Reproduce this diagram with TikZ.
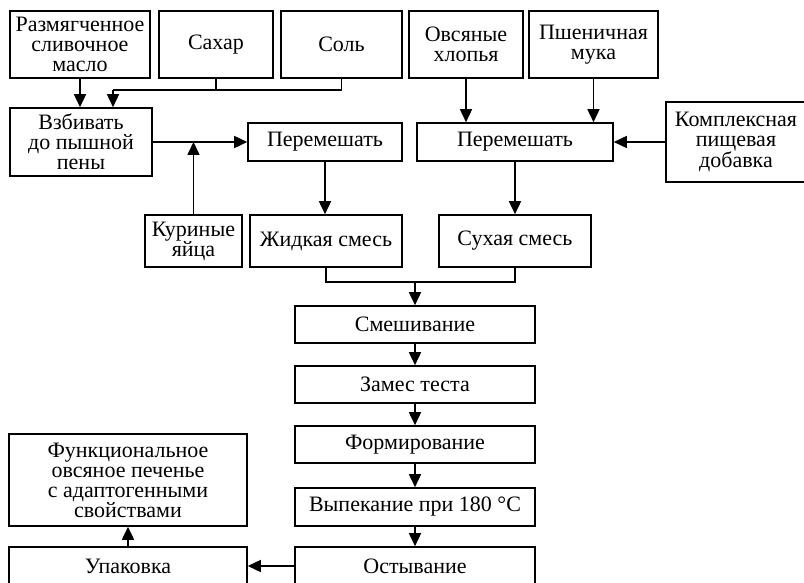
\documentclass[tikz,border=0pt]{standalone}
\usepackage{fontspec}
\setmainfont{Liberation Serif}
\usetikzlibrary{arrows.meta}
\begin{document}
\begin{tikzpicture}[x=1pt,y=-1pt,
  box/.style={draw, rectangle, line width=1.6pt, inner sep=0pt, align=center, font=\fontsize{22}{20}\selectfont},
  link/.style={line width=1.6pt},
  arr/.style={line width=1.6pt, -{Triangle[length=13pt,width=12pt]}}]
\useasboundingbox (0,0) rectangle (804,583);
\node[box, minimum width=140, minimum height=67] (maslo) at (80,44.5) {Размягченное\\сливочное\\масло};
\node[box, minimum width=114, minimum height=67] (sahar) at (216,44.5) {Сахар};
\node[box, minimum width=121, minimum height=67] (sol) at (341.5,44.5) {Соль};
\node[box, minimum width=114, minimum height=67] (ovs) at (466,44.5) {Овсяные\\хлопья};
\node[box, minimum width=129, minimum height=67] (muka) at (593.5,44.5) {Пшеничная\\мука};

\node[box, minimum width=142, minimum height=68] (vzbiv) at (81,142) {Взбивать\\до пышной\\пены};
\node[box, minimum width=154, minimum height=38] (perem1) at (325,142) {Перемешать};
\node[box, minimum width=196, minimum height=38] (perem2) at (515,142) {Перемешать};
\node[box, minimum width=140, minimum height=80] (kompl) at (736,142) {Комплексная\\пищевая\\добавка};

\node[box, minimum width=97, minimum height=52] (yaica) at (193.5,241) {Куриные\\яйца};
\node[box, minimum width=152, minimum height=52] (zhidk) at (326,241) {Жидкая смесь};
\node[box, minimum width=152, minimum height=52] (suh) at (515,241) {Сухая смесь};

\node[box, minimum width=240, minimum height=37] (smesh) at (415,324.5) {Смешивание};
\node[box, minimum width=240, minimum height=37] (zames) at (415,384.5) {Замес теста};
\node[box, minimum width=240, minimum height=37] (form) at (415,444.5) {Формирование};
\node[box, minimum width=240, minimum height=38] (vypek) at (415,507) {Выпекание при 180 °C};
\node[box, minimum width=240, minimum height=38] (ostyv) at (415,566) {Остывание};
\node[box, minimum width=238, minimum height=38] (upak) at (128,566) {Упаковка};
\node[box, minimum width=238, minimum height=92] (funk) at (128,480) {Функциональное\\овсяное печенье\\с адаптогенными\\свойствами};

\coordinate (j1) at (113,90);
\coordinate (j2) at (415,282);

\path[draw,arr] (maslo) -- (vzbiv.north -| maslo);
\path[draw,link] (sahar.south) -- (sahar.south |- j1);
\path[draw,link] (sol.south) |- (j1);
\path[draw,arr] (j1) -- (j1 |- vzbiv.north);
\path[draw,arr] (vzbiv.east) -- (perem1.west);
\path[draw,arr] (yaica.north) -- (yaica.north |- vzbiv.east);
\path[draw,arr] (perem1.south) -- (perem1.south |- zhidk.north);

\path[draw,arr] (ovs.south) -- (ovs.south |- perem2.north);
\path[draw,arr] (muka.south) -- (muka.south |- perem2.north);
\path[draw,arr] (kompl.west) -- (perem2.east);
\path[draw,arr] (perem2.south) -- (suh.north);

\path[draw,link] (zhidk.south) |- (j2) -| (suh.south);
\path[draw,arr] (j2) -- (smesh.north);
\path[draw,arr] (smesh) -- (zames);
\path[draw,arr] (zames) -- (form);
\path[draw,arr] (form) -- (vypek);
\path[draw,arr] (vypek) -- (ostyv);
\path[draw,arr] (ostyv.west) -- (upak.east);
\path[draw,arr] (upak.north) -- (funk.south);
\end{tikzpicture}
\end{document}
